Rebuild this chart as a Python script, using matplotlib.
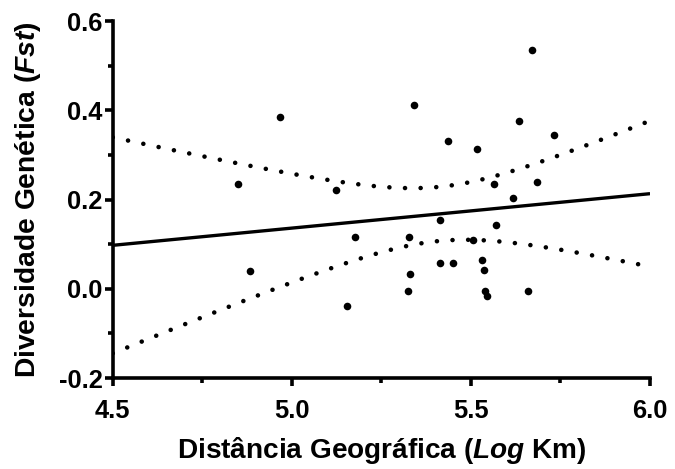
import numpy as np
import matplotlib
matplotlib.use("Agg")
import matplotlib.pyplot as plt
from matplotlib.ticker import MultipleLocator

plt.rcParams['font.family'] = ['Liberation Sans', 'DejaVu Sans']
plt.rcParams['mathtext.fontset'] = 'custom'
plt.rcParams['mathtext.it'] = 'Liberation Sans:bold:italic'
plt.rcParams['mathtext.rm'] = 'Liberation Sans:bold'

# Data (log km, Fst)
log_km = [4.851, 4.883, 4.966, 5.124, 5.154, 5.177, 5.324, 5.327, 5.330, 5.341,
          5.413, 5.413, 5.437, 5.450, 5.506, 5.518, 5.532, 5.536, 5.540, 5.544,
          5.564, 5.569, 5.617, 5.634, 5.660, 5.670, 5.685, 5.731]
fst = [0.235, 0.040, 0.384, 0.2225, -0.039, 0.115, -0.005, 0.116, 0.033, 0.412,
       0.154, 0.057, 0.332, 0.058, 0.110, 0.313, 0.065, 0.043, -0.004, -0.016,
       0.235, 0.142, 0.203, 0.376, -0.005, 0.535, 0.240, 0.344]

x_ticks = [4.5, 5.0, 5.5, 6.0]
y_ticks = [-0.2, 0.0, 0.2, 0.4, 0.6]
t_crit = 2.056  # t(0.975, df=26)

x = np.array(log_km)
y = np.array(fst)
n = len(x)
slope, intercept = np.polyfit(x, y, 1)
resid = y - (slope * x + intercept)
s = np.sqrt(np.sum(resid ** 2) / (n - 2))
xbar = x.mean()
sxx = np.sum((x - xbar) ** 2)

xs = np.linspace(x_ticks[0], x_ticks[-1], 200)
yfit = slope * xs + intercept
half = t_crit * s * np.sqrt(1.0 / n + (xs - xbar) ** 2 / sxx)

fig = plt.figure(figsize=(6.75, 4.69), dpi=100)
ax = fig.add_axes([0.167, 0.194, 0.796, 0.761])

dot = (0, (0.01, 3.4))
ax.plot(xs, yfit + half, color='black', lw=3.3, linestyle=dot, dash_capstyle='round')
ax.plot(xs, yfit - half, color='black', lw=3.3, linestyle=dot, dash_capstyle='round')
ax.plot(xs, yfit, color='black', lw=2.4, solid_capstyle='butt')
ax.scatter(x, y, s=30, color='black', zorder=3, linewidths=0)

ax.set_xlim(x_ticks[0], x_ticks[-1])
ax.set_ylim(y_ticks[0], y_ticks[-1])
ax.set_xticks(x_ticks)
ax.set_yticks(y_ticks)
ax.set_xticklabels([f"{v:.1f}" for v in x_ticks])
ax.set_yticklabels([f"{v:.1f}" for v in y_ticks])
ax.xaxis.set_minor_locator(MultipleLocator(0.25))
ax.yaxis.set_minor_locator(MultipleLocator(0.1))

for sp in ['top', 'right']:
    ax.spines[sp].set_visible(False)
for sp in ['left', 'bottom']:
    ax.spines[sp].set_linewidth(2.6)

ax.tick_params(which='major', direction='out', length=5.8, width=2.6, labelsize=18.4)
ax.tick_params(which='minor', direction='out', length=3.6, width=2.6)
ax.tick_params(axis='x', which='major', pad=9)
ax.tick_params(axis='y', which='major', pad=1.5)
for lab in ax.get_xticklabels() + ax.get_yticklabels():
    lab.set_fontweight('bold')

ax.set_xlabel('Distância Geográfica ($Log$ Km)', fontsize=20.2, fontweight='bold', labelpad=9)
ax.set_ylabel('Diversidade Genética ($Fst$)', fontsize=20.3, fontweight='bold', labelpad=11)

fig.savefig('out.png', dpi=100)
